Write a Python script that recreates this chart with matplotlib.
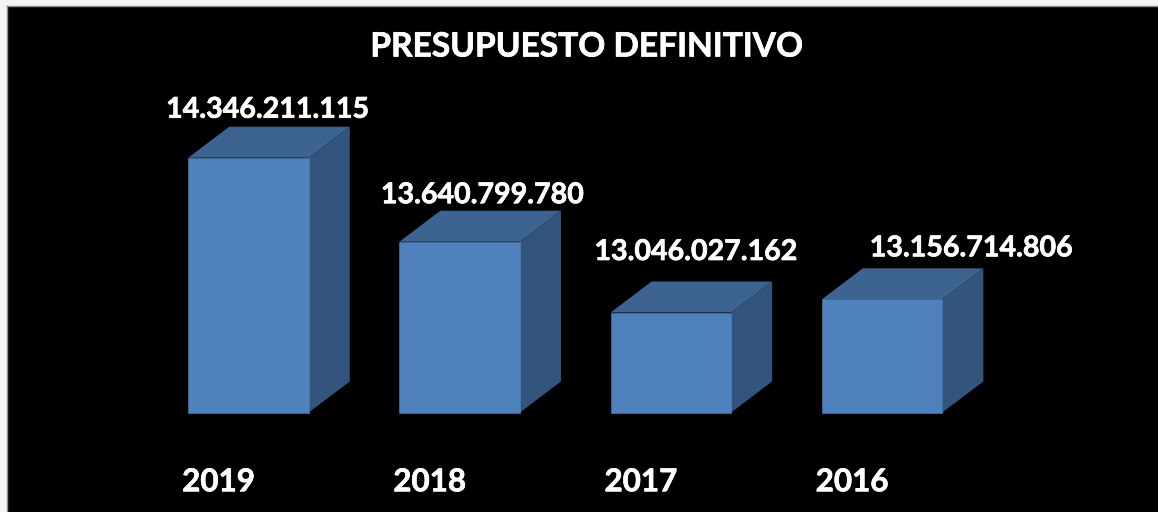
import matplotlib
matplotlib.use('Agg')
import matplotlib.pyplot as plt
import matplotlib.patheffects as pe

# datos del grafico
years = ['2019', '2018', '2017', '2016']
values = [14346211115, 13640799780, 13046027162, 13156714806]
value_labels = ['14.346.211.115', '13.640.799.780', '13.046.027.162', '13.156.714.806']

plt.rcParams['font.family'] = ['Lato', 'DejaVu Sans']

W, H = 1158, 512
# margen blanco arriba e izquierda
left_px, top_px = 6.5, 6

step_px = 211.2        # distancia entre barras
first_px = 248.5       # centro de la primera barra
bar_px = 120.5
base_px = 412.5
per_px = 8.4e6         # valor por pixel
base_value = 13046027162 - 100 * per_px
depth_x_px, depth_y_px = 41, 31

front = '#4F81BD'
top = '#3D6391'
side = '#33557D'

# la negrita de Lato queda algo fina, se engorda con un trazo
thick = [pe.withStroke(linewidth=0.5, foreground='white')]

fig = plt.figure(figsize=(W / 100, H / 100), dpi=100, facecolor='#F4F4F4')
ax = fig.add_axes([left_px / W, 0, 1 - left_px / W, 1 - top_px / H], facecolor='black')

ax.set_xlim((left_px - first_px) / step_px, (W - first_px) / step_px)
ax.set_ylim(base_value - (H - base_px) * per_px, base_value + (base_px - top_px) * per_px)

pos = list(range(len(years)))
half = bar_px / step_px / 2
dx = depth_x_px / step_px
dy = depth_y_px * per_px

ax.bar(pos, [v - base_value for v in values], bottom=base_value, width=half * 2,
       color=front, edgecolor=front, linewidth=0.4, zorder=3)

for p, v in zip(pos, values):
    # cara lateral
    ax.fill([p + half, p + half + dx, p + half + dx, p + half],
            [base_value, base_value + dy, v + dy, v], color=side, linewidth=0, zorder=2)
    # cara superior
    ax.fill([p - half, p + half, p + half + dx, p - half + dx],
            [v, v, v + dy, v + dy], color=top, linewidth=0, zorder=2)

# etiquetas, desplazadas a mano como en el original (pixeles)
label_off = [(19.5, 48), (23, 46.5), (25.5, 60.5), (89.5, 51)]
for p, v, txt, off in zip(pos, values, value_labels, label_off):
    ax.annotate(txt, (p, v), xytext=(off[0] * 0.72, off[1] * 0.72), textcoords='offset points',
                ha='center', va='center', color='white', fontsize=20.6, fontweight='bold',
                zorder=5, path_effects=thick)

ax.set_xticks([p - 30 / step_px for p in pos])
ax.set_xticklabels(years, color='white', fontsize=22.6, fontweight='bold', path_effects=thick)
ax.tick_params(axis='x', length=0, pad=-31.5)
ax.set_yticks([])

ax.text(587, H - 47, 'PRESUPUESTO DEFINITIVO', transform=None, ha='center', va='center',
        color='white', fontsize=24.1, fontweight='bold', path_effects=thick)

for s in ['right', 'bottom']:
    ax.spines[s].set_visible(False)
for s in ['left', 'top']:
    ax.spines[s].set_color('#8C8C8C')
    ax.spines[s].set_linewidth(1)

fig.savefig('out.png', dpi=100, facecolor=fig.get_facecolor())
